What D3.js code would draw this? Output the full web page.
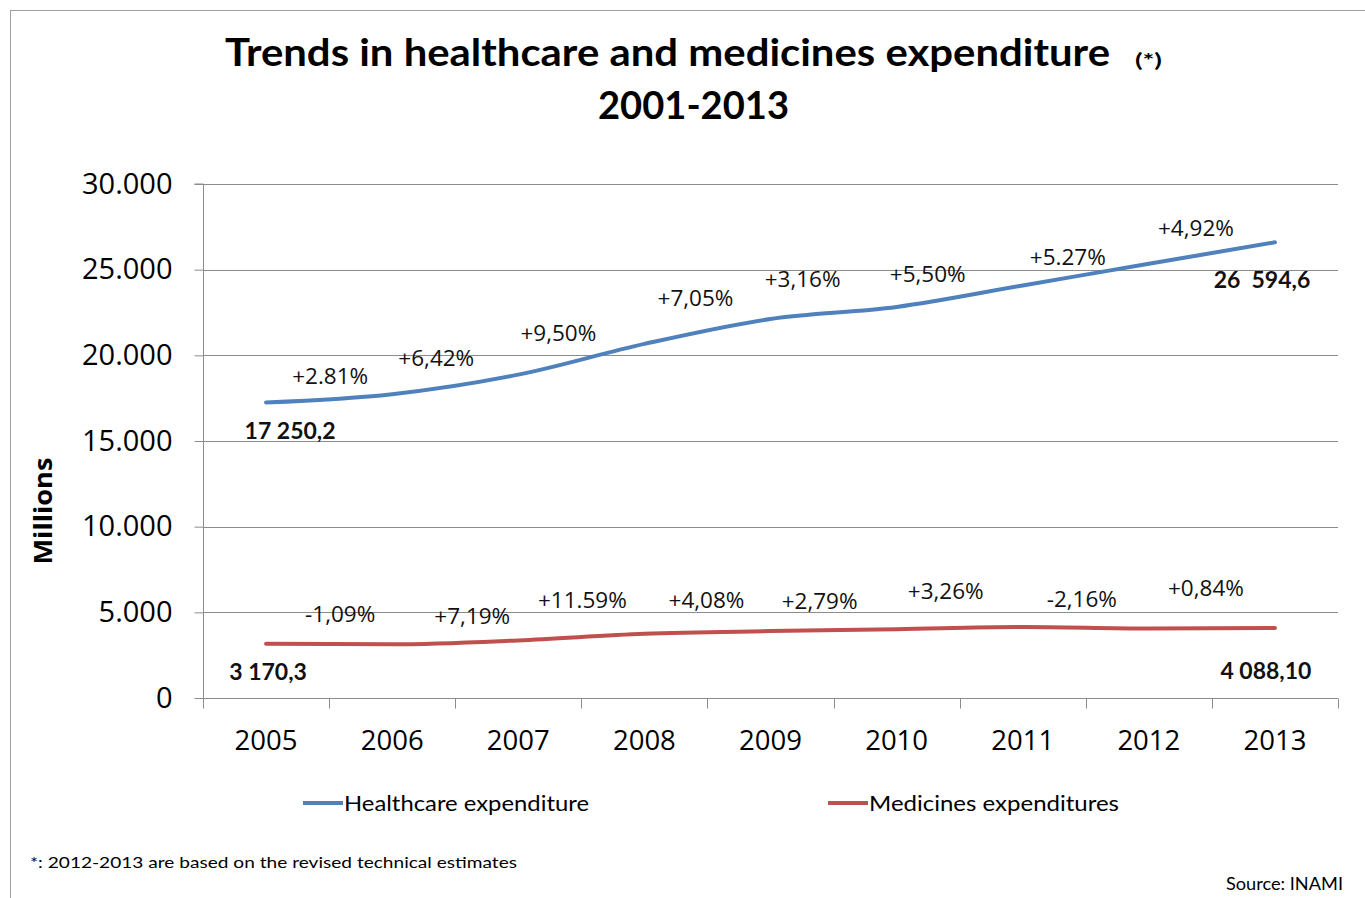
<!DOCTYPE html>
<html>
<head>
<meta charset="utf-8">
<script src="https://cdn.jsdelivr.net/npm/d3@7"></script>
<style>
  html, body { margin: 0; padding: 0; background: #fff; }
  svg { display: block; }
  text { white-space: pre; }
</style>
</head>
<body>
<svg id="chart" width="1365" height="898"></svg>
<script>
// ---- data ----
const years = ["2005", "2006", "2007", "2008", "2009", "2010", "2011", "2012", "2013"];
const healthcare = [17250.2, 17735, 18874, 20667, 22124, 22823, 24078, 25347, 26594.6];
const medicines = [3170.3, 3135.7, 3361.2, 3750.8, 3903.8, 4012.7, 4143.5, 4054.0, 4088.1];
const healthcareGrowth = ["+2.81%", "+6,42%", "+9,50%", "+7,05%", "+3,16%", "+5,50%", "+5.27%", "+4,92%"];
const medicinesGrowth = ["-1,09%", "+7,19%", "+11.59%", "+4,08%", "+2,79%", "+3,26%", "-2,16%", "+0,84%"];
const healthcareEnds = ["17 250,2", "26  594,6"];
const medicinesEnds = ["3 170,3", "4 088,10"];
const yTicks = [0, 5000, 10000, 15000, 20000, 25000, 30000];
const seriesNames = ["Healthcare expenditure", "Medicines expenditures"];

// ---- layout (label offsets in px from the year's point) ----
const hcOffsets = [[-62,-18],[-82,-17],[-86,-11],[-75,-21],[-94,-28],[-95,-12],[-81,-7],[-79,-14]];
const mdOffsets = [[-52,-30],[-46,-25],[-62,-34],[-64,-31],[-77,-28],[-77,-36],[-67,-30],[-69,-40]];
const hcEndOff = [[24,28],[-13,37]];
const mdEndOff = [[2,28],[-9,43]];

(function () {
const svg = d3.select("#chart");
const pLeft = 203, pRight = 1338, pTop = 184, pBottom = 698;
const blue = "#4F81BD", red = "#C0504D", grid = "#8c8c8c";

const x = d3.scaleBand().domain(years).range([pLeft, pRight]);
const y = d3.scaleLinear().domain([0, 30000]).range([pBottom, pTop]);
const cx = d => x(d) + x.bandwidth() / 2;
const loc = d3.formatLocale({decimal: ",", thousands: ".", grouping: [3], currency: ["", ""]});
const fmt = loc.format(",");

// outer frame
svg.append("rect").attr("x", 10.5).attr("y", 10.5).attr("width", 1400).attr("height", 1000)
  .attr("fill", "none").attr("stroke", "#a0a0a0").attr("stroke-width", 1);

// title
svg.append("text").attr("x", 225).attr("y", 66).attr("textLength", 885).attr("lengthAdjust", "spacingAndGlyphs")
  .attr("font-family", "Lato").attr("font-weight", "bold").attr("font-size", 38).attr("fill", "#000")
  .text("Trends in healthcare and medicines expenditure");
svg.append("text").attr("x", 1135).attr("y", 67).attr("textLength", 27).attr("lengthAdjust", "spacingAndGlyphs")
  .attr("font-family", "Lato").attr("font-weight", "bold").attr("font-size", 18).text("(*)");
svg.append("text").attr("x", 598).attr("y", 119).attr("textLength", 191).attr("lengthAdjust", "spacingAndGlyphs")
  .attr("font-family", "Lato").attr("font-weight", "bold").attr("font-size", 38).text("2001-2013");

// gridlines
svg.append("g").selectAll("line").data(yTicks.filter(d => d > 0)).join("line")
  .attr("x1", pLeft).attr("x2", pRight).attr("y1", d => Math.round(y(d)) + 0.5).attr("y2", d => Math.round(y(d)) + 0.5)
  .attr("stroke", grid).attr("stroke-width", 1);

// y axis
const yAxis = svg.append("g").attr("transform", `translate(${pLeft + 0.5},0)`)
  .call(d3.axisLeft(y).tickValues(yTicks).tickFormat(fmt).tickSize(9).tickPadding(22));
yAxis.select(".domain").attr("stroke", grid).attr("d", `M-9,${pTop}H0V${pBottom + 9}`);
yAxis.selectAll(".tick line").attr("stroke", grid);
yAxis.selectAll("text").attr("font-family", "Open Sans").attr("font-size", 29).attr("fill", "#000");

// x axis
const xAxis = svg.append("g").attr("transform", `translate(0,${pBottom + 0.5})`)
  .call(d3.axisBottom(x).tickSize(0).tickPadding(32));
xAxis.select(".domain").attr("stroke", grid).attr("d", `M${pLeft},0H${pRight}`);
xAxis.selectAll("text").attr("font-family", "Open Sans").attr("font-size", 27.5).attr("fill", "#000");
const boundaries = years.map(d => x(d)).concat([x.range()[1]]);
xAxis.selectAll(".bt").data(boundaries).join("line").attr("class", "bt")
  .attr("x1", d => Math.round(d) + 0.5).attr("x2", d => Math.round(d) + 0.5).attr("y1", 0).attr("y2", 10)
  .attr("stroke", grid);

// lines
const line = d3.line().x((d, i) => cx(years[i])).y(d => y(d)).curve(d3.curveMonotoneX);
svg.append("path").datum(healthcare).attr("d", line).attr("fill", "none").attr("stroke", blue)
  .attr("stroke-width", 4).attr("stroke-linecap", "round");
svg.append("path").datum(medicines).attr("d", line).attr("fill", "none").attr("stroke", red)
  .attr("stroke-width", 4).attr("stroke-linecap", "round");

// growth labels
function growthLabels(vals, labels, offs) {
  svg.append("g").selectAll("text").data(labels).join("text")
    .attr("x", (d, i) => cx(years[i + 1]) + offs[i][0])
    .attr("y", (d, i) => y(vals[i + 1]) + offs[i][1])
    .attr("dy", "0.36em").attr("text-anchor", "middle")
    .attr("font-family", "Open Sans").attr("font-size", 22.5).attr("fill", "#111")
    .text(d => d);
}
growthLabels(healthcare, healthcareGrowth, hcOffsets);
growthLabels(medicines, medicinesGrowth, mdOffsets);

// end value labels
function endLabels(vals, labels, offs) {
  const idx = [0, vals.length - 1];
  svg.append("g").selectAll("text").data(labels).join("text")
    .attr("x", (d, i) => cx(years[idx[i]]) + offs[i][0])
    .attr("y", (d, i) => y(vals[idx[i]]) + offs[i][1])
    .attr("dy", "0.36em").attr("text-anchor", "middle")
    .attr("font-family", "Lato").attr("font-weight", "bold").attr("font-size", 23).attr("fill", "#111")
    .text(d => d);
}
endLabels(healthcare, healthcareEnds, hcEndOff);
endLabels(medicines, medicinesEnds, mdEndOff);

// y label
svg.append("text").attr("transform", "translate(52,511) rotate(-90)").attr("text-anchor", "middle")
  .attr("font-family", "Open Sans").attr("font-weight", "bold").attr("font-size", 25)
  .attr("textLength", 107).attr("lengthAdjust", "spacingAndGlyphs").text("Millions");

// legend
const legend = [{name: seriesNames[0], color: blue, x: 303, w: 245}, {name: seriesNames[1], color: red, x: 828, w: 250}];
const lg = svg.append("g").selectAll("g").data(legend).join("g").attr("transform", d => `translate(${d.x},803)`);
lg.append("line").attr("x1", 0).attr("x2", 40).attr("stroke", d => d.color).attr("stroke-width", 4);
lg.append("text").attr("x", 41).attr("dy", "0.35em").attr("font-family", "Lato").attr("font-size", 22)
  .attr("textLength", d => d.w).attr("lengthAdjust", "spacingAndGlyphs").text(d => d.name);

// footnotes
svg.append("text").attr("x", 30).attr("y", 862).attr("dy", "0.35em").attr("font-family", "Lato").attr("font-size", 16)
  .attr("textLength", 487).attr("lengthAdjust", "spacingAndGlyphs")
  .text("*: 2012-2013 are based on the revised technical estimates");
svg.append("text").attr("x", 1343).attr("y", 884).attr("dy", "0.35em").attr("text-anchor", "end")
  .attr("font-family", "Lato").attr("font-size", 17).attr("textLength", 117).attr("lengthAdjust", "spacingAndGlyphs")
  .text("Source: INAMI");
})();
</script>
</body>
</html>
